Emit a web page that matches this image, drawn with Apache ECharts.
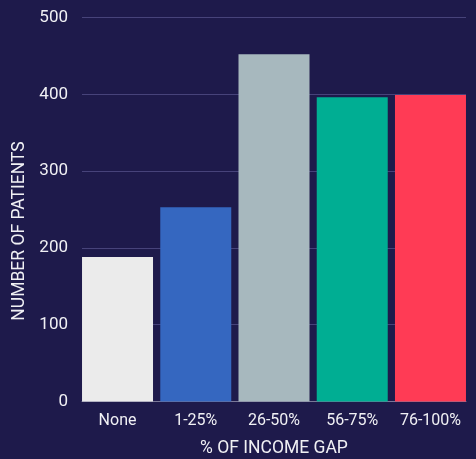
<!DOCTYPE html>
<html>
<head>
<meta charset="utf-8">
<script src="https://cdn.jsdelivr.net/npm/echarts@6/dist/echarts.min.js"></script>
<style>
html,body{margin:0;padding:0;background:#1e1a4b;}
#c{width:476px;height:459px;}
</style>
</head>
<body>
<div id="c"></div>
<script>
const categories = ['None', '1-25%', '26-50%', '56-75%', '76-100%'];
const patients = [188, 253, 452, 396, 399];
const barColors = ['#ebebeb', '#3567c0', '#a7b8be', '#00ae93', '#ff3b55'];
const yTicks = { min: 0, max: 500, interval: 100 };
const yTitle = 'NUMBER OF PATIENTS';
const xTitle = '% OF INCOME GAP';

const font = 'Roboto, "Liberation Sans", Arial, sans-serif';
const chart = echarts.init(document.getElementById('c'), null, { renderer: 'canvas' });
chart.setOption({
  backgroundColor: '#1e1a4b',
  animation: false,
  grid: [
    { left: 82, right: 10, top: 17.5, bottom: 57.5, containLabel: false, outerBoundsMode: 'none' },
    { left: 78.4, right: 6.4, top: 17.5, bottom: 57.5, containLabel: false, outerBoundsMode: 'none' }
  ],
  xAxis: [
    {
      gridIndex: 0, type: 'category', data: categories,
      axisLine: { show: true, lineStyle: { color: '#7a7898', width: 1 } },
      axisTick: { show: false }, axisLabel: { show: false }
    },
    {
      gridIndex: 1, type: 'category', data: categories,
      axisLine: { show: false }, axisTick: { show: false },
      axisLabel: { color: '#f0f0f4', fontSize: 16, fontFamily: font, margin: 11, interval: 0 },
      name: xTitle, nameLocation: 'middle', nameGap: 38,
      nameTextStyle: { color: '#f0f0f4', fontSize: 17.5, fontFamily: font }
    }
  ],
  yAxis: [
    {
      gridIndex: 0, type: 'value', min: yTicks.min, max: yTicks.max, interval: yTicks.interval,
      axisLine: { show: false }, axisTick: { show: false },
      axisLabel: { color: '#f0f0f4', fontSize: 17, fontFamily: font, margin: 14 },
      splitLine: { lineStyle: { color: '#47437a', width: 1 } }
    },
    {
      gridIndex: 1, type: 'value', min: yTicks.min, max: yTicks.max, interval: yTicks.interval,
      show: false, splitLine: { show: false }
    }
  ],
  graphic: [
    {
      type: 'text', x: 20, y: 231, rotation: Math.PI / 2,
      style: {
        text: yTitle, fill: '#f0f0f4', fontSize: 17.5, fontFamily: font,
        textAlign: 'center', textVerticalAlign: 'middle'
      }
    }
  ],
  series: [
    {
      type: 'bar', xAxisIndex: 1, yAxisIndex: 1, barWidth: 71,
      data: patients.map((v, i) => ({ value: v, itemStyle: { color: barColors[i] } }))
    }
  ]
});
</script>
</body>
</html>
